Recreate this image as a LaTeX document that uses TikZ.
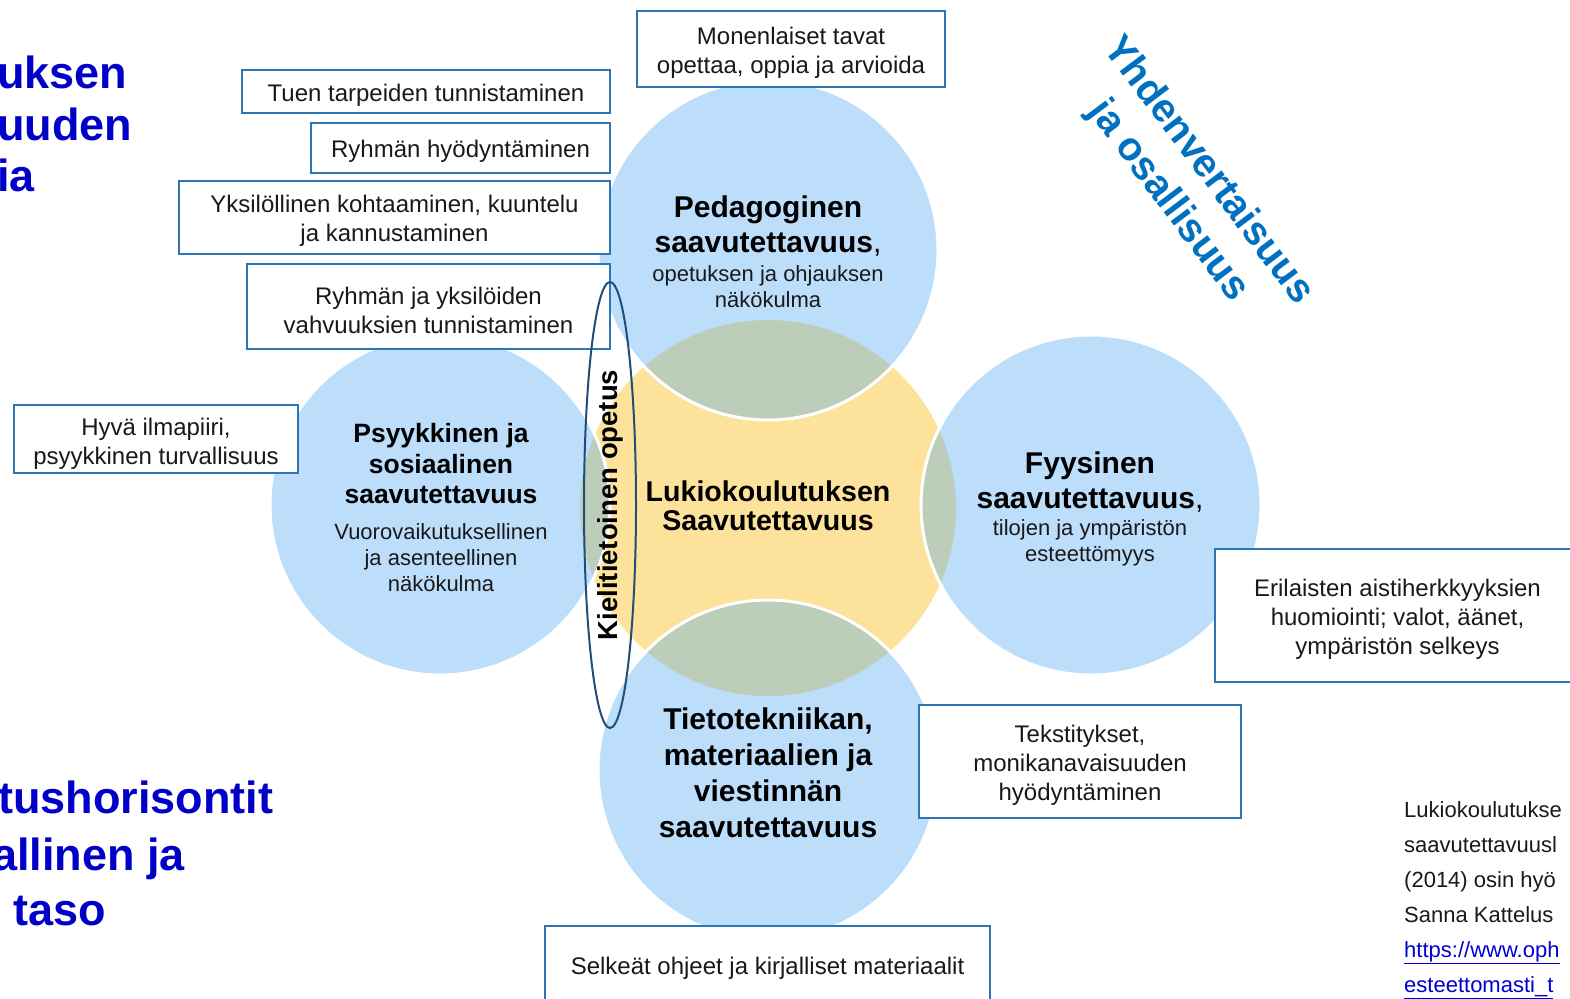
\documentclass[tikz,border=0pt]{standalone}
\usepackage{fontspec}
\setmainfont{Liberation Sans}
\usetikzlibrary{shapes.geometric}
\definecolor{cblue}{RGB}{189,222,250}
\definecolor{cyellow}{RGB}{253,226,155}
\definecolor{cgreen}{RGB}{188,205,185}
\definecolor{boxblue}{RGB}{46,117,182}
\definecolor{ellblue}{RGB}{31,78,121}
\definecolor{titleblue}{RGB}{0,0,200}
\definecolor{diagblue}{RGB}{0,112,192}
\definecolor{linkblue}{RGB}{0,0,210}
\definecolor{txt}{RGB}{25,25,25}
\newcommand\fsz[2]{\fontsize{#1}{#2}\selectfont}
\begin{document}
\begin{tikzpicture}[x=1pt,y=-1pt,
  bcirc/.style={circle, fill=cblue, minimum size=340pt, inner sep=0pt},
  ycirc/.style={circle, fill=cyellow, minimum size=376pt, inner sep=0pt},
  box/.style={draw=boxblue, line width=2.5pt, fill=white, inner sep=0pt},
  boxtxt/.style={align=center, inner sep=0pt, text=txt, font=\fsz{24}{29}, yshift=-3.5pt},
  ctitle/.style={font=\bfseries\fsz{30}{35}, align=center, inner sep=0pt, text=black},
  csub/.style={font=\fsz{22}{26}, align=center, inner sep=0pt, text=txt},
  bigleft/.style={anchor=base west, inner sep=0pt, text=titleblue, font=\bfseries\fsz{45}{50}},
  refline/.style={anchor=base west, inner sep=0pt, text=txt, font=\fsz{22}{35}},
  linkline/.style={anchor=base west, inner sep=0pt, text=linkblue, font=\fsz{22}{35}}
]
\useasboundingbox (0,0) rectangle (1570,998);
% circles
\node[ycirc] (core) at (768,508) {};
\node[bcirc] (cped) at (768,250) {};
\node[bcirc] (cpsy) at (440,505) {};
\node[bcirc] (cfyy) at (1091,505) {};
\node[bcirc] (ctie) at (768,770) {};
\begin{scope}
  \clip (core.center) circle[radius=188pt];
  \foreach \n in {cped,cpsy,cfyy,ctie} \fill[cgreen] (\n.center) circle[radius=170pt];
\end{scope}
\foreach \n in {cped,cpsy,cfyy,ctie} \draw[white, line width=3pt] (\n.center) circle[radius=170pt];

% boxes
\node[box, minimum width=308pt, minimum height=76pt, label={[boxtxt]center:{Monenlaiset tavat\\opettaa, oppia ja arvioida}}] (b1) at (791,49) {};
\node[box, minimum width=368pt, minimum height=43pt, label={[boxtxt]center:{Tuen tarpeiden tunnistaminen}}] (b2) at (426,91.5) {};
\node[box, minimum width=299pt, minimum height=50pt, label={[boxtxt]center:{Ryhmän hyödyntäminen}}] (b3) at (460.5,148) {};
\node[box, minimum width=431pt, minimum height=73pt, label={[boxtxt]center:{Yksilöllinen kohtaaminen, kuuntelu\\ja kannustaminen}}] (b4) at (394.5,217.5) {};
\node[box, minimum width=363pt, minimum height=85pt, label={[boxtxt]center:{Ryhmän ja yksilöiden\\vahvuuksien tunnistaminen}}] (b5) at (428.5,306.5) {};
\node[box, minimum width=284pt, minimum height=68pt, label={[boxtxt, yshift=-1.5pt]center:{Hyvä ilmapiiri,\\psyykkinen turvallisuus}}] (b6) at (156,439) {};
\node[box, minimum width=365pt, minimum height=133pt, label={[boxtxt]center:{Erilaisten aistiherkkyyksien\\huomiointi; valot, äänet,\\ympäristön selkeys}}] (b7) at (1397.5,615.5) {};
\node[box, minimum width=322pt, minimum height=113pt, label={[boxtxt]center:{Tekstitykset,\\monikanavaisuuden\\hyödyntäminen}}] (b8) at (1080,761.5) {};
\node[box, minimum width=445pt, minimum height=78pt, label={[boxtxt]center:{Selkeät ohjeet ja kirjalliset materiaalit}}] (b9) at (767.5,965) {};

% ellipse
\node[ellipse, draw=ellblue, line width=2pt, rotate=90, minimum width=446pt, minimum height=52pt, inner sep=0pt, font=\bfseries\fsz{27.5}{30}, text=black] (kiel) at (610,505) {Kielitietoinen opetus};

% circle texts
\node[ctitle] (tped) at (768,226) {Pedagoginen\\saavutettavuus{\mdseries,}};
\node[csub] (sped) at (768,287) {opetuksen ja ohjauksen\\näkökulma};
\node[ctitle, font=\bfseries\fsz{26.5}{30.5}] (tpsy) at (441,464) {Psyykkinen ja\\sosiaalinen\\saavutettavuus};
\node[csub] (spsy) at (441,558) {Vuorovaikutuksellinen\\ja asenteellinen\\näkökulma};
\node[ctitle, font=\bfseries\fsz{28.6}{29}] (tcore) at (768,506) {Lukiokoulutuksen\\Saavutettavuus};
\node[ctitle] (tfyy) at (1090,482) {Fyysinen\\saavutettavuus{\mdseries,}};
\node[csub] (sfyy) at (1090,543) {tilojen ja ympäristön\\esteettömyys};
\node[ctitle, font=\bfseries\fsz{30}{36}] (ttie) at (768,773) {Tietotekniikan,\\materiaalien ja\\viestinnän\\saavutettavuus};

% diagonal heading
\node[rotate=-53, align=center, inner sep=0pt, text=diagblue, font=\bfseries\fsz{40}{50}] (yhd) at (1188,186) {Yhdenvertaisuus\\ja osallisuus};

% left big headings (cut by the page edge)
\node[bigleft] (l1) at (-3,88) {uksen};
\node[bigleft] (l2) at (-3,140) {uuden};
\node[bigleft] (l3) at (-3,191) {ia};
\node[bigleft] (l4) at (-2,813) {tushorisontit};
\node[bigleft] (l5) at (-8,870) {allinen ja};
\node[bigleft] (l6) at (13,925) {taso};

% reference text bottom right
\node[refline] (r1) at (1404,817) {Lukiokoulutukse};
\node[refline] (r2) at (1404,852) {saavutettavuusl};
\node[refline] (r3) at (1404,887) {(2014) osin hyö};
\node[refline] (r4) at (1404,922) {Sanna Kattelus};
\node[linkline] (r5) at (1404,957) {\underline{https://www.oph}};
\node[linkline] (r6) at (1404,992) {\underline{esteettomasti\_t}};
\end{tikzpicture}
\end{document}
